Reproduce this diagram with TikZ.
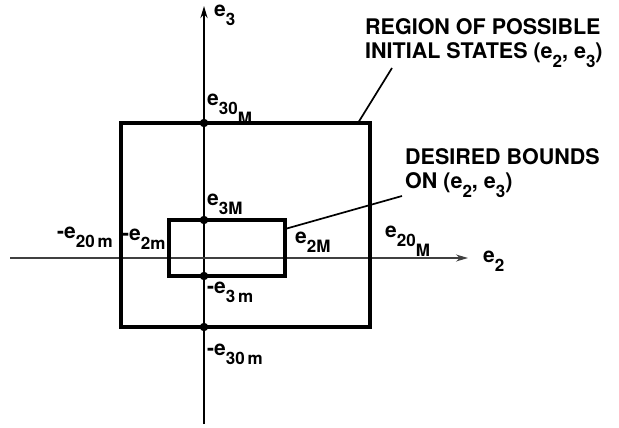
\documentclass[tikz,border=0pt]{standalone}
\usepackage{fontspec}
\setmainfont{TeX Gyre Heros}
\usetikzlibrary{arrows.meta,positioning}

\newcommand{\lo}[1]{\raisebox{-9pt}{\fontsize{17}{17}\selectfont #1}}
\newcommand{\lolo}[1]{\raisebox{-10pt}{#1}}

\begin{document}
\begin{tikzpicture}[
  x=1pt, y=-1pt,
  font=\fontsize{21}{24}\selectfont\bfseries,
  >={Stealth[length=12pt,width=7pt]},
  axis/.style={line width=2.2pt},
  haxis/.style={line width=1.4pt, color=black!75},
  bound/.style={line width=3.4pt},
  dot/.style={circle, fill, inner sep=0pt, minimum size=8.5pt},
  lbl/.style={inner sep=0pt, anchor=base west},
  note/.style={inner sep=0pt, anchor=north west, align=left, font=\fontsize{21.5}{24}\selectfont\bfseries},
  leader/.style={line width=1.7pt},
]
\useasboundingbox (0,0) rectangle (619,428);

% axes
\coordinate (ybot) at (204,424);
\coordinate (ytop) at (204,6);
\coordinate (xleft) at (10,258);
\coordinate (xright) at (468,258);
\draw[axis,->] (ybot) -- (ytop);
\draw[haxis,->] (xleft) -- (xright);

% regions
\coordinate (bigNW) at (121,123);
\coordinate (bigSE) at (370,327);
\coordinate (smNW) at (169,220);
\coordinate (smSE) at (285,276);
\draw[bound] (bigNW) rectangle (bigSE);
\draw[bound] (smNW) rectangle (smSE);

\node[dot] (d30M) at (204,123) {};
\node[dot] (d3M) at (204,220) {};
\node[dot] (d3m) at (204,276) {};
\node[dot] (d30m) at (204,327) {};

% labels
\node[lbl] (le3) at (214,17) {e\lo{3}};
\node[lbl] (le30M) at (207,106) {e\lo{30\lolo{M}}};
\node[lbl] (le3M) at (207,205) {e\lo{3M}};
\node[lbl] (lm3m) at (207,293) {-e\lo{3\,m}};
\node[lbl] (lm30m) at (207,355) {-e\lo{30\,m}};
\node[lbl] (lm20m) at (57,238) {-e\lo{20\,m}};
\node[lbl] (lm2m) at (122,240) {-e\lo{2m}};
\node[lbl] (le2M) at (295,243) {e\lo{2M}};
\node[lbl] (le20M) at (385,237) {e\lo{20\lolo{M}}};
\node[lbl] (le2) at (483,262) {e\lo{2}};

% notes
\node[note] (region) at (365,18) {REGION OF POSSIBLE\\INITIAL STATES (e\lo{2}, e\lo{3})};
\node[note] (desired) at (405,148) {DESIRED BOUNDS\\ON (e\lo{2}, e\lo{3})};

\coordinate (regfoot) at (358,123);
\coordinate (regtip) at (392,68);
\coordinate (desfoot) at (285,229);
\coordinate (destip) at (402,196);
\draw[leader] (regfoot) -- (regtip);
\draw[leader] (desfoot) -- (destip);

\end{tikzpicture}
\end{document}
